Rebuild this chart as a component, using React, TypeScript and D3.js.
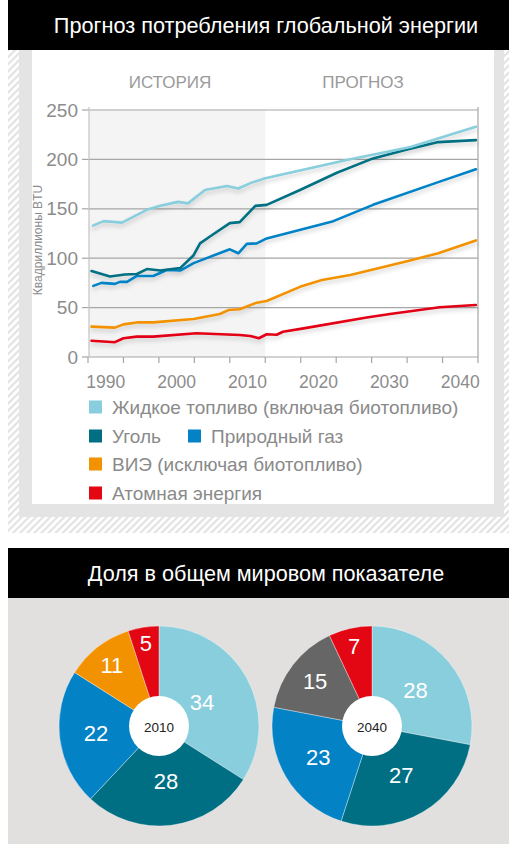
import React from 'react';
import * as d3 from 'd3';

// ---------- DATA ----------
const liquids: [number, number][] = [
  [1988.2, 133], [1989.7, 137.5], [1992.3, 136], [1995.8, 149], [1997.7, 153],
  [2000.2, 157], [2001.6, 155.5], [2004.0, 169], [2007.1, 173], [2008.7, 170.5],
  [2010.4, 176], [2012.5, 181], [2024.0, 199.5], [2033.0, 212.5], [2042.2, 233],
];
const coal: [number, number][] = [
  [1988.0, 87], [1990.6, 81.5], [1992.7, 83.5], [1994.4, 84], [1995.8, 89],
  [1997.7, 87.5], [2000.5, 90], [2002.4, 103], [2003.3, 115], [2004.7, 122],
  [2007.5, 135.5], [2008.9, 136.5], [2011.1, 153], [2012.7, 154], [2017.4, 169],
  [2022.6, 186.5], [2027.7, 201], [2032.5, 210], [2036.9, 217.5], [2042.2, 219.5],
];
const gas: [number, number][] = [
  [1988.25, 72], [1989.4, 75], [1991.3, 74], [1992.0, 76], [1993.0, 76],
  [1994.4, 82], [1996.7, 82], [1998.6, 88], [2000.5, 87.5], [2002.4, 95],
  [2007.5, 109], [2008.7, 105], [2009.9, 114.5], [2011.3, 115], [2012.7, 120],
  [2022.1, 137.5], [2027.7, 154], [2037.1, 177.5], [2042.2, 190],
];
const renewables: [number, number][] = [
  [1988.0, 30.7], [1991.3, 29.7], [1992.5, 33], [1994.4, 35], [1996.7, 35],
  [2002.4, 38.5], [2006.1, 43.5], [2007.3, 47.5], [2008.9, 48.3], [2011.3, 55],
  [2012.7, 56.7], [2017.4, 71], [2020.5, 78], [2024.5, 83], [2032.5, 97],
  [2036.9, 105], [2042.2, 118],
];
const nuclear: [number, number][] = [
  [1988.0, 16.5], [1991.3, 15], [1992.5, 19], [1994.4, 20.6], [1996.7, 20.6],
  [2002.8, 24], [2008.9, 22.3], [2010.4, 21.3], [2011.6, 19], [2012.7, 23],
  [2014.1, 22.5], [2015.0, 25.6], [2017.9, 29], [2026.8, 40], [2030.1, 43.5],
  [2037.1, 50.3], [2042.2, 52.6],
];

const yTicks = [0, 50, 100, 150, 200, 250];
const xTickLabels = [1990, 2000, 2010, 2020, 2030, 2040];
const xTickMarks = [1987.5, 1992.5, 1997.5, 2002.5, 2007.5, 2012.5, 2017.5, 2022.5, 2027.5, 2032.5, 2037.5, 2042.5];
const historyEnd = 2012.5;

const pieShares2010 = [34, 28, 22, 11, 5];
const pieShares2040 = [28, 27, 23, 15, 7];

const C_LIQ = '#88cedd';
const C_COAL = '#006f83';
const C_GAS = '#0482c6';
const C_REN = '#f39200';
const C_NUC = '#e30613';
const C_OTHER = '#666666';

const pieColors2010 = [C_LIQ, C_COAL, C_GAS, C_REN, C_NUC];
const pieColors2040 = [C_LIQ, C_COAL, C_GAS, C_OTHER, C_NUC];

const FONT = '"Liberation Sans", Arial, Helvetica, sans-serif';

// ---------- SCALES ----------
const x = d3.scaleLinear().domain([1987.5, 2042.5]).range([88, 478]);
const y = d3.scaleLinear().domain([0, 250]).range([357, 110]);
const line = d3.line<[number, number]>().x(d => x(d[0])).y(d => y(d[1]));

const series = [
  { data: nuclear, color: C_NUC },
  { data: renewables, color: C_REN },
  { data: gas, color: C_GAS },
  { data: coal, color: C_COAL },
  { data: liquids, color: C_LIQ },
];

function Pie({ cx, cy, values, colors, label }: { cx: number; cy: number; values: number[]; colors: string[]; label: string }) {
  const arcs = d3.pie<number>().sort(null).value(d => d)(values);
  const arc = d3.arc<d3.PieArcDatum<number>>().innerRadius(0).outerRadius(100);
  return (
    <g transform={`translate(${cx},${cy})`}>
      {arcs.map((a, i) => (
        <path key={i} d={arc(a) || ''} fill={colors[i]} stroke="rgba(255,255,255,0.45)" strokeWidth={0.8} />
      ))}
      {arcs.map((a, i) => {
        const r = 90 - 1.2 * a.data;
        const m = (a.startAngle + a.endAngle) / 2;
        return (
          <text key={'t' + i} x={Math.sin(m) * r} y={-Math.cos(m) * r} fill="#fff" fontSize={22}
            textAnchor="middle" dominantBaseline="central" fontFamily={FONT}>{a.data}</text>
        );
      })}
      <circle r={30} fill="#fff" />
      <text x={0} y={1} fontSize={13.5} textAnchor="middle" dominantBaseline="central" fill="#222" fontFamily={FONT}>{label}</text>
    </g>
  );
}

export default function App() {
  const legendRows = [
    [{ c: C_LIQ, t: 'Жидкое топливо (включая биотопливо)', x: 89 }],
    [{ c: C_COAL, t: 'Уголь', x: 89 }, { c: C_GAS, t: 'Природный газ', x: 188 }],
    [{ c: C_REN, t: 'ВИЭ (исключая биотопливо)', x: 89 }],
    [{ c: C_NUC, t: 'Атомная энергия', x: 89 }],
  ];
  const legendY = [407, 436, 464, 493];
  return (
    <svg width={509} height={844} style={{ position: 'absolute', left: 0, top: 0 }} fontFamily={FONT}>
      <defs>
        <pattern id="hatch" width="5" height="5" patternUnits="userSpaceOnUse" patternTransform="rotate(45)">
          <rect width="5" height="5" fill="#ffffff" />
          <rect width="2.2" height="5" fill="#e2e2e2" />
        </pattern>
        <filter id="shadow" x="-10%" y="-30%" width="120%" height="160%">
          <feDropShadow dx="0" dy="3" stdDeviation="2" floodColor="#000" floodOpacity="0.18" />
        </filter>
      </defs>

      {/* top title */}
      <rect x={8} y={0} width={501} height={50} fill="#000" />
      <text x={266} y={25} fill="#fff" fontSize={21.7} textAnchor="middle" dominantBaseline="central">
        Прогноз потребления глобальной энергии
      </text>

      {/* frame */}
      <rect x={8} y={50} width={501} height={483} fill="url(#hatch)" />
      <rect x={19} y={50} width={485} height={467} fill="#e4e4e4" />
      <rect x={32} y={50} width={462} height={454} fill="#ffffff" />

      {/* history shade */}
      <rect x={x(1987.5) + 1} y={y(250)} width={x(historyEnd) - x(1987.5) - 1} height={y(0) - y(250)} fill="#f4f4f4" />

      <text x={170} y={82} fontSize={17} fill="#9a9a9a" textAnchor="middle" dominantBaseline="central">ИСТОРИЯ</text>
      <text x={363} y={82} fontSize={17} fill="#9a9a9a" textAnchor="middle" dominantBaseline="central">ПРОГНОЗ</text>

      {/* grid */}
      {yTicks.map(t => (
        <g key={t}>
          <line x1={x(1987.5)} x2={x(2042.5)} y1={y(t)} y2={y(t)} stroke="#a6a6a6" strokeWidth={1.2} />
          <line x1={x(1987.5) - 6} x2={x(1987.5)} y1={y(t)} y2={y(t)} stroke="#a6a6a6" strokeWidth={1.2} />
          <text x={78} y={y(t)} fontSize={19} fill="#8c8c8c" textAnchor="end" dominantBaseline="central">{t}</text>
        </g>
      ))}
      <line x1={x(1987.5) + 1} x2={x(1987.5) + 1} y1={y(250) - 3} y2={y(0)} stroke="#c4c4c4" strokeWidth={1.2} />
      <line x1={x(2042.5)} x2={x(2042.5)} y1={y(250) - 3} y2={y(0)} stroke="#a6a6a6" strokeWidth={1.2} />
      {xTickMarks.map(t => (
        <line key={t} x1={x(t)} x2={x(t)} y1={y(0)} y2={y(0) + 6} stroke="#a6a6a6" strokeWidth={1.2} />
      ))}
      {xTickLabels.map(t => (
        <text key={t} x={x(t)} y={388} fontSize={17.5} fill="#8c8c8c" textAnchor="middle">{t}</text>
      ))}
      <text transform="translate(42,240) rotate(-90)" fontSize={12} fill="#8c8c8c" textAnchor="middle">Квадриллионы BTU</text>

      {/* lines */}
      <g filter="url(#shadow)">
        {series.map((s, i) => (
          <path key={i} d={line(s.data) || ''} fill="none" stroke={s.color} strokeWidth={2.6} strokeLinejoin="round" strokeLinecap="round" />
        ))}
      </g>

      {/* legend */}
      {legendRows.map((row, ri) => row.map((it, k) => (
        <g key={ri + '-' + k}>
          <rect x={it.x} y={legendY[ri] - 6.5} width={13} height={13} fill={it.c} />
          <text x={it.x + 23} y={legendY[ri]} fontSize={19} fill="#8a8a8a" dominantBaseline="central">{it.t}</text>
        </g>
      )))}

      {/* second section */}
      <rect x={8} y={548} width={501} height={50} fill="#000" />
      <text x={266} y={573} fill="#fff" fontSize={21.6} textAnchor="middle" dominantBaseline="central">
        Доля в общем мировом показателе
      </text>
      <rect x={8} y={598} width={501} height={246} fill="#e1e0de" />

      <Pie cx={159} cy={726} values={pieShares2010} colors={pieColors2010} label="2010" />
      <Pie cx={372} cy={726} values={pieShares2040} colors={pieColors2040} label="2040" />
    </svg>
  );
}
